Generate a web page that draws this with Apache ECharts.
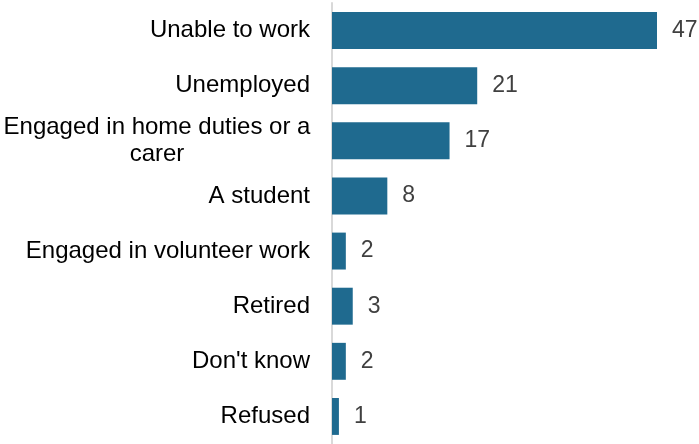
<!DOCTYPE html>
<html>
<head>
<meta charset="utf-8">
<script src="https://cdn.jsdelivr.net/npm/echarts@6/dist/echarts.min.js"></script>
<style>html,body{margin:0;padding:0;background:#fff}#c{width:699px;height:444px}</style>
</head>
<body>
<div id="c"></div>
<script>
const categories = ["Unable to work", "Unemployed", "Engaged in home duties or a carer", "A student", "Engaged in volunteer work", "Retired", "Don't know", "Refused"];
const values = [47, 21, 17, 8, 2, 3, 2, 1];
const wrapped = {"Engaged in home duties or a carer": "{w|Engaged in home duties or a}\n{w|carer}"};

const FONT = 'Liberation Sans, Arial, sans-serif';
const chart = echarts.init(document.getElementById('c'), null, {renderer: 'canvas'});
chart.setOption({
  animation: false,
  grid: {left: 332, top: 3, width: 325, height: 445, containLabel: false},
  xAxis: {
    type: 'value', min: 0, max: 47,
    show: false
  },
  yAxis: {
    type: 'category', inverse: true, data: categories,
    axisLine: {show: true, lineStyle: {color: '#d9d9d9', width: 2}},
    axisTick: {show: false},
    axisLabel: {
      margin: 22, color: '#000', fontSize: 24, fontFamily: FONT,
      lineHeight: 28, align: 'right',
      rich: {w: {width: 306, align: 'center', fontSize: 24, fontFamily: FONT, color: '#000', lineHeight: 27}},
      formatter: v => wrapped[v] || v
    }
  },
  series: [{
    type: 'bar', data: values, barWidth: '67%',
    itemStyle: {color: '#1F6A8F'},
    label: {show: true, position: 'right', distance: 15, color: '#404040', fontSize: 23, fontFamily: FONT}
  }]
});
</script>
</body>
</html>
